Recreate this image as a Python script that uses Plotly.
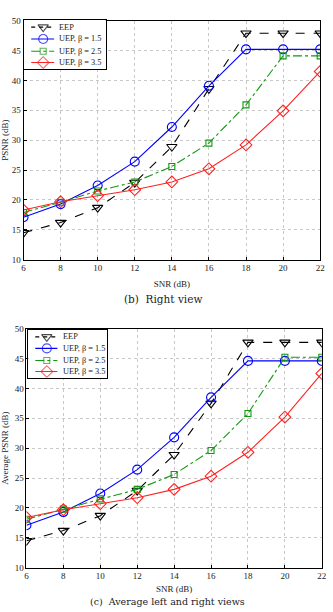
import plotly.graph_objects as go

snr = [6, 8, 10, 12, 14, 16, 18, 20, 22]

# (b) Right view
right_eep = [14.5, 16.2, 18.7, 22.9, 28.9, 38.6, 47.9, 47.9, 47.9]
right_uep15 = [17.1, 19.3, 22.4, 26.4, 32.2, 39.1, 45.2, 45.2, 45.2]
right_uep25 = [17.9, 19.6, 21.5, 23.0, 25.6, 29.5, 35.9, 44.1, 44.1]
right_uep35 = [18.3, 19.7, 20.7, 21.7, 23.0, 25.2, 29.2, 34.9, 41.5]

# (c) Average left and right views
avg_eep = [14.5, 16.2, 18.7, 22.9, 28.9, 37.5, 47.7, 47.7, 47.7]
avg_uep15 = [17.1, 19.3, 22.4, 26.4, 31.8, 38.5, 44.6, 44.6, 44.6]
avg_uep25 = [18.1, 19.8, 21.5, 23.1, 25.6, 29.6, 35.8, 45.2, 45.2]
avg_uep35 = [18.4, 19.7, 20.7, 21.7, 23.1, 25.3, 29.3, 35.2, 42.5]

names = ["EEP", "UEP, \u03b2 = 1.5", "UEP, \u03b2 = 2.5", "UEP, \u03b2 = 3.5"]
styles = [
    dict(color="black", dash="dash", symbol="triangle-down-open", size=9),
    dict(color="#0000ff", dash="solid", symbol="circle-open", size=9),
    dict(color="#119911", dash="dashdot", symbol="square-open", size=6),
    dict(color="#ff2222", dash="solid", symbol="diamond-open", size=9),
]

# legend layout: glyph positions as fractions of the legend box
legend_rows = [0.85, 0.61, 0.36, 0.13]
legend_line_x = [0.09, 0.236, 0.37]
legend_text_x = 0.41

FONT = "Liberation Serif"
W, H = 333, 612
fig = go.Figure()


def add_panel(series, xa, ya):
    for nm, ys, st in zip(names, series, styles):
        fig.add_trace(go.Scatter(
            x=snr, y=ys, name=nm, mode="lines+markers", showlegend=False,
            xaxis=xa, yaxis=ya,
            line=dict(color=st["color"], dash=st["dash"], width=1.1),
            marker=dict(symbol=st["symbol"], size=st["size"], color=st["color"],
                        line=dict(width=1.1, color=st["color"])),
        ))


def add_legend(xa, ya):
    for nm, row, st in zip(names, legend_rows, styles):
        dash = "4px,4px" if st["dash"] == "dash" else st["dash"]
        fig.add_trace(go.Scatter(
            x=legend_line_x, y=[row] * 3, mode="lines+markers", showlegend=False,
            hoverinfo="skip", xaxis=xa, yaxis=ya,
            line=dict(color=st["color"], dash=dash, width=1.1),
            marker=dict(symbol=st["symbol"], size=[0, st["size"], 0], color=st["color"],
                        line=dict(width=1.1, color=st["color"])),
        ))
        fig.add_annotation(text=nm, x=legend_text_x, y=row, xref=xa, yref=ya,
                           xanchor="left", yanchor="middle", showarrow=False,
                           font=dict(family=FONT, size=8.3, color="#222"))


add_panel([right_eep, right_uep15, right_uep25, right_uep35], "x", "y")
add_panel([avg_eep, avg_uep15, avg_uep25, avg_uep35], "x2", "y2")
add_legend("x3", "y3")
add_legend("x4", "y4")

axis_common = dict(
    showline=True, linecolor="black", linewidth=1, mirror=True,
    ticks="inside", ticklen=3, tickcolor="black",
    showgrid=True, gridcolor="#c8c8c8", griddash="dot", gridwidth=1,
    zeroline=False, tickfont=dict(family=FONT, size=9, color="#222"),
)
# legend frame: an empty subplot whose own background and frame form the box
legend_axis = dict(range=[0, 1], showticklabels=False, showgrid=False, zeroline=False,
                   showline=True, linecolor="black", linewidth=1, mirror=True,
                   ticks="", fixedrange=True)

fig.update_layout(
    width=W, height=H, margin=dict(l=0, r=0, t=0, b=0),
    paper_bgcolor="white", plot_bgcolor="white",
    font=dict(family=FONT, size=9, color="#222"),
    xaxis=dict(domain=[0.066, 0.976], range=[6, 22], tickvals=snr, anchor="y",
               title=dict(text="SNR (dB)", font=dict(family=FONT, size=9), standoff=8),
               **axis_common),
    yaxis=dict(domain=[0.577, 0.974], range=[10, 50], dtick=5, anchor="x",
               title=dict(text="PSNR (dB)", font=dict(family=FONT, size=9), standoff=4),
               **axis_common),
    xaxis2=dict(domain=[0.075, 0.981], range=[6, 22], tickvals=snr, anchor="y2",
                title=dict(text="SNR (dB)", font=dict(family=FONT, size=9), standoff=5),
                **axis_common),
    yaxis2=dict(domain=[0.0654, 0.4624], range=[10, 50], dtick=5, anchor="x2",
                title=dict(text="Average PSNR (dB)", font=dict(family=FONT, size=9), standoff=4),
                **axis_common),
    xaxis3=dict(domain=[22.3 / W, 106 / W], anchor="y3", **legend_axis),
    yaxis3=dict(domain=[1 - 65 / H, 1 - 15 / H], anchor="x3", **legend_axis),
    xaxis4=dict(domain=[26.7 / W, 107.5 / W], anchor="y4", **legend_axis),
    yaxis4=dict(domain=[1 - 379 / H, 1 - 330 / H], anchor="x4", **legend_axis),
)

fig.add_annotation(text="(b)  Right view", x=164 / W, y=1 - 299 / H, xref="paper", yref="paper",
                   showarrow=False, font=dict(family="DejaVu Serif", size=10.5, color="#222"))
fig.add_annotation(text="(c)  Average left and right views", x=169 / W, y=1 - 606 / H,
                   xref="paper", yref="paper", yanchor="middle", showarrow=False,
                   font=dict(family="DejaVu Serif", size=9.5, color="#222"))

fig.write_html("out.html")
